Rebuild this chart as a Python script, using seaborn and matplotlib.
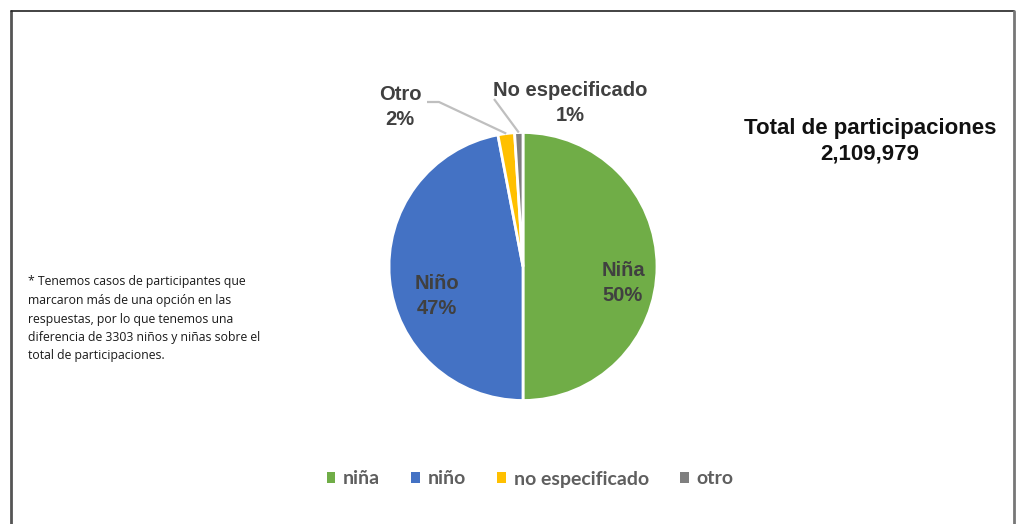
import matplotlib
matplotlib.use("Agg")
import matplotlib.pyplot as plt
import numpy as np
import seaborn as sns
from matplotlib.patches import Patch
from matplotlib.lines import Line2D

# Participation share by gender (percent of total)
legend_labels = ["niña", "niño", "no especificado", "otro"]
shares = [50, 47, 2, 1]
slice_titles = ["Niña", "Niño", "Otro", "No especificado"]
colors = ["#70AD47", "#4472C4", "#FFC000", "#7F7F7F"]
total_participaciones = 2109979
footnote = ("* Tenemos casos de participantes que\n"
            "marcaron más de una opción en las\n"
            "respuestas, por lo que tenemos una\n"
            "diferencia de 3303 niños y niñas sobre el\n"
            "total de participaciones.")

sns.set_theme(style="white")
plt.rcParams["font.family"] = ["Liberation Sans", "DejaVu Sans"]

W, H = 1019, 524
fig = plt.figure(figsize=(W / 100, H / 100), dpi=100)
fig.patch.set_facecolor("white")

# Outer frame (open at the bottom)
frame = fig.add_axes([0, 0, 1, 1])
frame.set_xlim(0, W)
frame.set_ylim(H, 0)
frame.axis("off")
frame.add_line(Line2D([11, 11], [11, H], color="#555555", lw=2))
frame.add_line(Line2D([11, 1014], [11, 11], color="#222222", lw=1.2))
frame.add_line(Line2D([1014, 1014], [11, H], color="#777777", lw=2))

# Pie axes: center (523, 266.5), radius 134 px
cx, cy, r = 523, 266.5, 134
ax = fig.add_axes([(cx - r) / W, (H - cy - r) / H, 2 * r / W, 2 * r / H])

wedges, _ = ax.pie(shares, colors=colors, startangle=90, counterclock=False,
                   radius=1, wedgeprops=dict(edgecolor="white", linewidth=2))
ax.set_xlim(-1, 1)
ax.set_ylim(-1, 1)
ax.axis("off")

txt_color = "#404040"
label_fs = 14.5

def to_ax(px, py):
    return ((px - cx) / r, (cy - py) / r)

# Inside labels for the two large slices
inside_pos = [(623, 283), (437, 296)]
for i in range(2):
    x, y = to_ax(*inside_pos[i])
    ax.text(x, y, f"{slice_titles[i]}\n{shares[i]}%", ha="center", va="center",
            fontsize=label_fs, fontweight="bold", color=txt_color,
            linespacing=1.35)

# Outside labels with leader lines for the two small slices
outside = [(2, (400, 107), (427, 102)), (3, (570, 103), (494, 99))]
for i, (lx, ly), (sx, sy) in outside:
    w = wedges[i]
    mid = np.deg2rad((w.theta1 + w.theta2) / 2)
    tip = (np.cos(mid), np.sin(mid))
    ax.text(*to_ax(lx, ly), f"{slice_titles[i]}\n{shares[i]}%", ha="center",
            va="center", fontsize=label_fs, fontweight="bold", color=txt_color,
            linespacing=1.35, clip_on=False)
    start = to_ax(sx, sy)
    if i == 2:
        knee = to_ax(439, 102)
        xs = [start[0], knee[0], tip[0]]
        ys = [start[1], knee[1], tip[1]]
    else:
        xs = [start[0], tip[0]]
        ys = [start[1], tip[1]]
    ax.plot(xs, ys, color="#BFBFBF", lw=1.6, clip_on=False, solid_capstyle="butt")

# Total participations
fig.text(870 / W, 1 - 141 / H,
         f"Total de participaciones\n{total_participaciones:,}",
         ha="center", va="center", fontsize=16, fontweight="bold",
         color="#111111", linespacing=1.3)

# Footnote
fig.text(28 / W, 1 - 319 / H, footnote, ha="left", va="center",
         fontsize=8.8, color="#1a1a1a", family=["Open Sans", "DejaVu Sans"],
         linespacing=1.55)

# Legend
handles = [Patch(facecolor=c, edgecolor="none") for c in colors]
leg = fig.legend(handles, legend_labels, loc="center", ncol=4,
                 bbox_to_anchor=(530 / W, 1 - 479 / H), frameon=False,
                 handlelength=0.45, handleheight=0.45, handletextpad=0.4,
                 columnspacing=1.6,
                 prop=dict(family=["Lato", "DejaVu Sans"], weight="bold", size=14))
for t in leg.get_texts():
    t.set_color("#5f5f5f")

fig.savefig("out.png", dpi=100, facecolor="white")
